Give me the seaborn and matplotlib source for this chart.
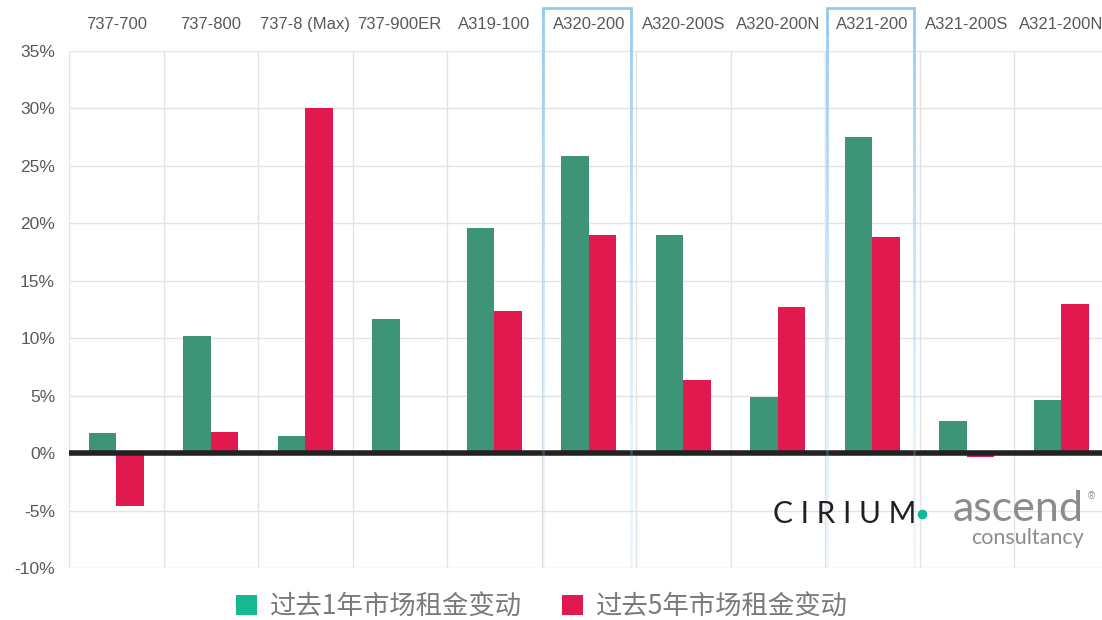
import matplotlib
matplotlib.use("Agg")
import matplotlib.pyplot as plt
import seaborn as sns
import pandas as pd
import numpy as np
from matplotlib.patches import Patch
from matplotlib.lines import Line2D
from matplotlib.collections import LineCollection
from matplotlib.transforms import blended_transform_factory
from matplotlib.ticker import FuncFormatter, MultipleLocator

categories = ["737-700", "737-800", "737-8 (Max)", "737-900ER", "A319-100", "A320-200",
              "A320-200S", "A320-200N", "A321-200", "A321-200S", "A321-200N"]
change_1y = [1.75, 10.2, 1.5, 11.7, 19.6, 25.9, 19.0, 4.9, 27.5, 2.8, 4.6]
change_5y = [-4.6, 1.8, 30.0, 0.0, 12.4, 19.0, 6.35, 12.7, 18.8, -0.3, 13.0]
series_names = ["过去1年市场租金变动", "过去5年市场租金变动"]
highlighted = ["A320-200", "A321-200"]
y_ticks = [-10, -5, 0, 5, 10, 15, 20, 25, 30, 35]

bar_colors = ["#3D9476", "#E0194F"]
legend_colors = ["#15B890", "#E0194F"]

df = pd.DataFrame({
    "category": categories * 2,
    "value": change_1y + change_5y,
    "series": [series_names[0]] * len(categories) + [series_names[1]] * len(categories),
})

sns.set_theme(style="white")
plt.rcParams["font.family"] = ["Liberation Sans", "DejaVu Sans"]

W, H = 1102, 620
fig = plt.figure(figsize=(W / 100, H / 100), dpi=100)
ax = fig.add_axes([69 / W, 1 - 568 / H, 1033 / W, 517 / H])

sns.barplot(data=df, x="category", y="value", hue="series", order=categories,
            hue_order=series_names, palette=bar_colors, width=0.58, gap=0,
            linewidth=0, saturation=1, legend=False, ax=ax, zorder=3)

ax.set_ylim(min(y_ticks), max(y_ticks))
ax.set_xlim(-0.5, -0.5 + 1033 / 94.5)
ax.yaxis.set_major_locator(MultipleLocator(5))
ax.yaxis.set_major_formatter(FuncFormatter(lambda v, p: f"{v:.0f}%"))
ax.set_xlabel("")
ax.set_ylabel("")

# grid
for v in y_ticks:
    ax.axhline(v, color="#e3e3e3", lw=1, zorder=0)
for i in range(len(categories) + 1):
    ax.axvline(i - 0.5, color="#e3e3e3", lw=1, zorder=0)
ax.axhline(0, color="#222222", lw=4, zorder=4)

for s in ax.spines.values():
    s.set_visible(False)

ax.xaxis.tick_top()
ax.tick_params(axis="x", length=0, pad=14, labelsize=12, labelcolor="#595959")
ax.tick_params(axis="y", length=0, pad=10, labelsize=12.5, labelcolor="#595959")
ax.set_xticks(range(len(categories)))
ax.set_xticklabels(categories)

# highlight boxes (top + sides fading downward)
trans = blended_transform_factory(ax.transData, ax.transAxes)
top = 1.083
box_color = np.array(matplotlib.colors.to_rgba("#94C9F2"))
for c in highlighted:
    i = categories.index(c)
    x0, x1 = i - 0.48, i + 0.445
    ax.plot([x0, x1], [top, top], color="#94C9F2", lw=2, transform=trans, clip_on=False, zorder=5,
            solid_capstyle="projecting")
    ys = np.linspace(top, 0.0, 40)
    for xx in (x0, x1):
        segs = [[(xx, ys[k]), (xx, ys[k + 1])] for k in range(len(ys) - 1)]
        cols = []
        for k in range(len(ys) - 1):
            frac = (ys[k] / top)
            a = 0.15 + 0.85 * frac ** 1.5
            cols.append((*box_color[:3], a))
        lc = LineCollection(segs, colors=cols, linewidths=2, transform=trans, clip_on=False, zorder=5)
        ax.add_collection(lc)

# legend
handles = [Patch(facecolor=legend_colors[0], edgecolor="none"),
           Patch(facecolor=legend_colors[1], edgecolor="none")]
leg = fig.legend(handles, series_names, loc="center", bbox_to_anchor=(542 / W, 1 - 607 / H),
                 ncol=2, frameon=False, handlelength=0.8, handleheight=0.8, handletextpad=0.5,
                 columnspacing=1.5,
                 prop={"family": ["Noto Sans CJK SC", "DejaVu Sans"], "size": 19})
for t in leg.get_texts():
    t.set_color("#7a7a7a")

# logo
fig.text(773 / W, 1 - 523 / H, "C I R I U M", fontsize=21.5, color="#231F20",
         family=["Lato", "DejaVu Sans"], fontweight="normal", va="baseline", ha="left")
fig.add_artist(Line2D([922 / W], [1 - 514 / H], marker="o", markersize=7, color="#12B69A",
                      markeredgewidth=0, transform=fig.transFigure))
fig.text(1084 / W, 1 - 521 / H, "ascend", fontsize=31, color="#8C8C8C",
         family=["Lato", "DejaVu Sans"], fontweight="normal", va="baseline", ha="right")
fig.text(1084 / W, 1 - 544 / H, "consultancy", fontsize=15.5, color="#8C8C8C",
         family=["Lato", "DejaVu Sans"], fontweight="normal", va="baseline", ha="right")
fig.text(1091 / W, 1 - 496 / H, "®", fontsize=7, color="#8C8C8C", va="center", ha="center")

fig.savefig("out.png", dpi=100)
